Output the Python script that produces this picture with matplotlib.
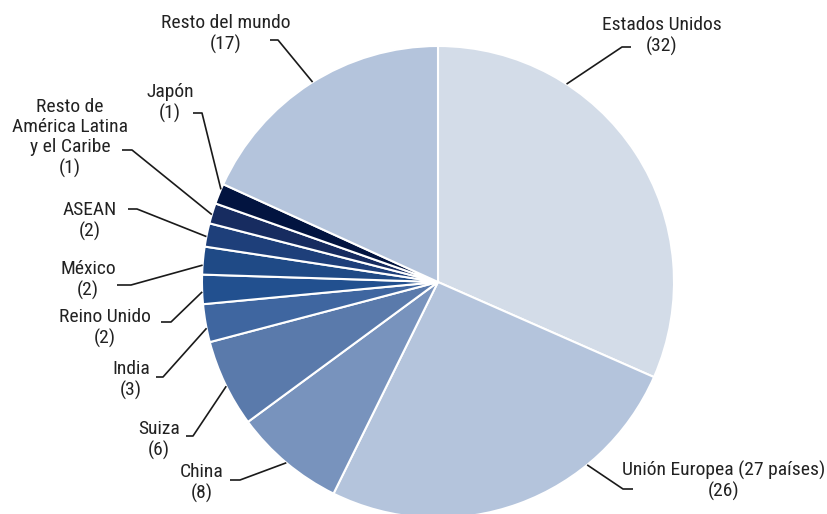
import numpy as np
import matplotlib
matplotlib.use('Agg')
import matplotlib.pyplot as plt

plt.rcParams['font.family'] = ['Roboto Condensed', 'DejaVu Sans']

labels = ['Estados Unidos', 'Unión Europea (27 países)', 'China', 'Suiza', 'India',
          'Reino Unido', 'México', 'ASEAN', 'Resto de\nAmérica Latina\ny el Caribe',
          'Japón', 'Resto del mundo']
# shares as drawn (unrounded) and the rounded values printed in the labels
shares = [31.6, 25.7, 7.6, 6.0, 2.6, 2.0, 1.9, 1.6, 1.4, 1.4, 18.2]
label_values = [32, 26, 8, 6, 3, 2, 2, 2, 1, 1, 17]
colors = ['#d3dce8', '#b4c4dc', '#7893bd', '#5a7aab', '#3f66a0', '#22508f',
          '#1f4a86', '#1e3f7a', '#172c60', '#021440', '#b4c4dc']

W, H = 827, 514
cx, cy, R = 438, H - 282, 236

# leader layout: angle on rim (deg), elbow (x, y from top), end x, text centre (x, y from top)
leaders = [
    (57.0, (622, 47), 631, (662, 36)),
    (-50.8, (623, 489), 633, (724, 481)),
    (230.0, (240, 480), 230, (202, 483)),
    (206.2, (193, 436), 186, (159, 440)),
    (191.3, (163, 377), 156, (131, 380)),
    (182.4, (171, 322), 161, (105, 328)),
    (175.9, (131, 285), 117, (88, 280)),
    (168.9, (137, 209), 128, (90, 221)),
    (163.4, (132, 150), 122, (70, 138)),
    (156.9, (202, 113), 193, (170, 103)),
    (122.1, (278, 40), 270, (226, 34)),
]

fig = plt.figure(figsize=(W / 100, H / 100), dpi=100)
ax = fig.add_axes([0, 0, 1, 1])

ax.pie(shares, colors=colors, startangle=90, counterclock=False,
       center=(cx, cy), radius=R, frame=True,
       wedgeprops=dict(edgecolor='white', linewidth=1.5))
ax.set_xlim(0, W)
ax.set_ylim(0, H)
ax.axis('off')

for lab, val, (ang, elbow, endx, tpos) in zip(labels, label_values, leaders):
    a = np.radians(ang)
    px, py = cx + R * np.cos(a), cy + R * np.sin(a)
    ex, ey = elbow[0], H - elbow[1]
    ax.plot([px, ex, endx], [py, ey, ey], color='#1a1a1a', lw=1.2,
            solid_capstyle='butt', zorder=3)
    ax.text(tpos[0], H - tpos[1], '%s\n(%d)' % (lab, val), ha='center', va='center',
            fontsize=14, color='#222222', linespacing=1.15)

fig.savefig('out.png', dpi=100)
